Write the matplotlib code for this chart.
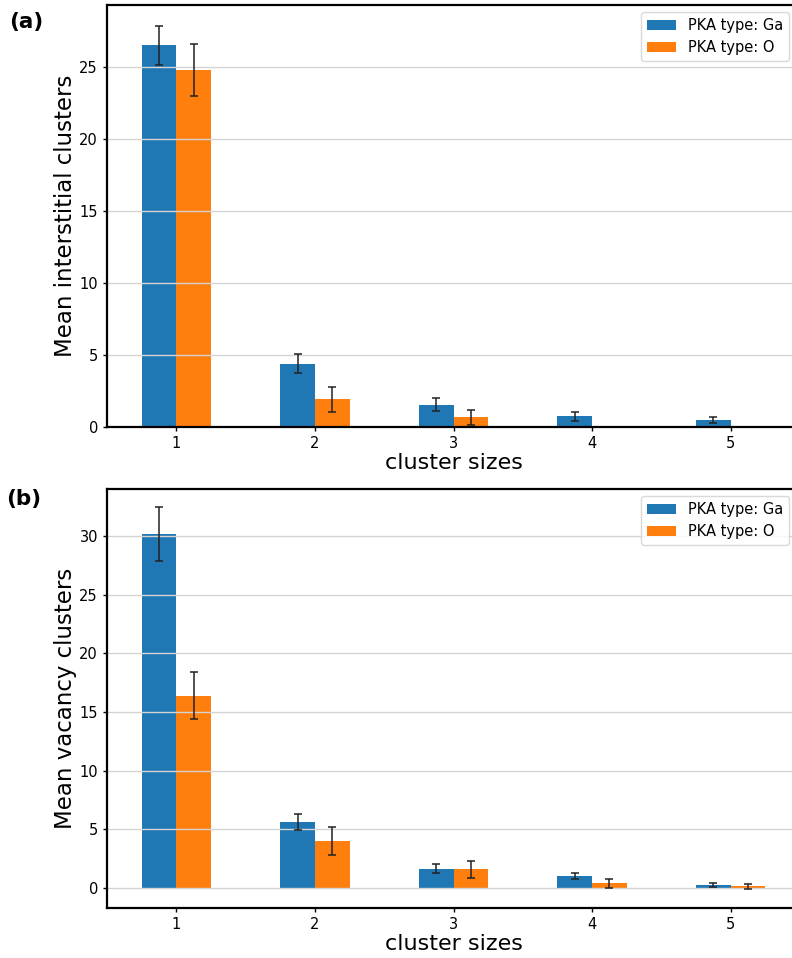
import numpy as np
import matplotlib
matplotlib.use("Agg")
import matplotlib.pyplot as plt

plt.rcParams["font.family"] = ["DejaVu Sans"]

# data
sizes = [1, 2, 3, 4, 5]
labels = ["PKA type: Ga", "PKA type: O"]

inter_ga = [26.5, 4.4, 1.55, 0.74, 0.46]
inter_ga_err = [1.35, 0.68, 0.46, 0.32, 0.2]
inter_o = [24.8, 1.92, 0.69, 0.0, 0.0]
inter_o_err = [1.8, 0.85, 0.52, 0.0, 0.0]

vac_ga = [30.15, 5.6, 1.65, 1.0, 0.28]
vac_ga_err = [2.3, 0.68, 0.4, 0.25, 0.17]
vac_o = [16.4, 4.03, 1.6, 0.42, 0.14]
vac_o_err = [2.0, 1.18, 0.72, 0.39, 0.23]

W, H = 792, 958
width = 0.25


def panel(fig, rect, ga, ga_err, o, o_err, ylabel, ylim, yticks, leg_top):
    ax = fig.add_axes(rect)
    x = np.array(sizes)
    ax.bar(x - width / 2, ga, width, color="#1f77b4", label=labels[0], zorder=1)
    ax.bar(x + width / 2, o, width, color="#ff7f0e", label=labels[1], zorder=1)
    ax.errorbar(x - width / 2, ga, yerr=ga_err, fmt="none", ecolor="#222222",
                elinewidth=1.1, capsize=3, capthick=1.1, zorder=3)
    # no error bar drawn where the O value is zero
    mask = np.array(o_err) > 0
    ax.errorbar((x + width / 2)[mask], np.array(o)[mask], yerr=np.array(o_err)[mask],
                fmt="none", ecolor="#222222", elinewidth=1.1, capsize=3, capthick=1.1, zorder=3)

    ax.set_xlim(0.5, 5.5)
    ax.set_ylim(*ylim)
    ax.set_xticks(sizes)
    ax.set_yticks(yticks)
    ax.tick_params(labelsize=10.5, length=3, width=1)
    ax.grid(axis="y", color="#d4d4d4", linewidth=1)
    ax.set_axisbelow("line")
    for s in ax.spines.values():
        s.set_linewidth(1.6)

    ax.set_ylabel(ylabel, fontsize=16.5)
    ax.yaxis.set_label_coords(-0.043, 0.5)
    ax.set_xlabel("cluster sizes", fontsize=16)
    ax.xaxis.set_label_coords(0.5, -0.062)

    ax.legend(loc="upper right", bbox_to_anchor=(789 / W, 1 - leg_top / H),
              bbox_transform=fig.transFigure, borderaxespad=0, fontsize=10.5,
              frameon=True, fancybox=True, edgecolor="#d0d0d0")
    return ax


def main():
    fig = plt.figure(figsize=(W / 100, H / 100), dpi=100)

    # axes extend slightly past the right edge, as in the reference crop
    left = 107 / W
    axw = 693 / W
    panel(fig, [left, 1 - 427 / H, axw, 422 / H], inter_ga, inter_ga_err, inter_o, inter_o_err,
          "Mean interstitial clusters", (0, 29.3), [0, 5, 10, 15, 20, 25], 12)
    panel(fig, [left, 1 - 908 / H, axw, 419 / H], vac_ga, vac_ga_err, vac_o, vac_o_err,
          "Mean vacancy clusters", (-1.7, 34.0), [0, 5, 10, 15, 20, 25, 30], 496)

    fig.text(0.012, 1 - 12 / H, "(a)", fontsize=15.5, fontweight="bold",
             va="top", ha="left")
    fig.text(0.008, 1 - 489 / H, "(b)", fontsize=15.5, fontweight="bold",
             va="top", ha="left")

    fig.savefig("out.png", dpi=100)


if __name__ == "__main__":
    main()
